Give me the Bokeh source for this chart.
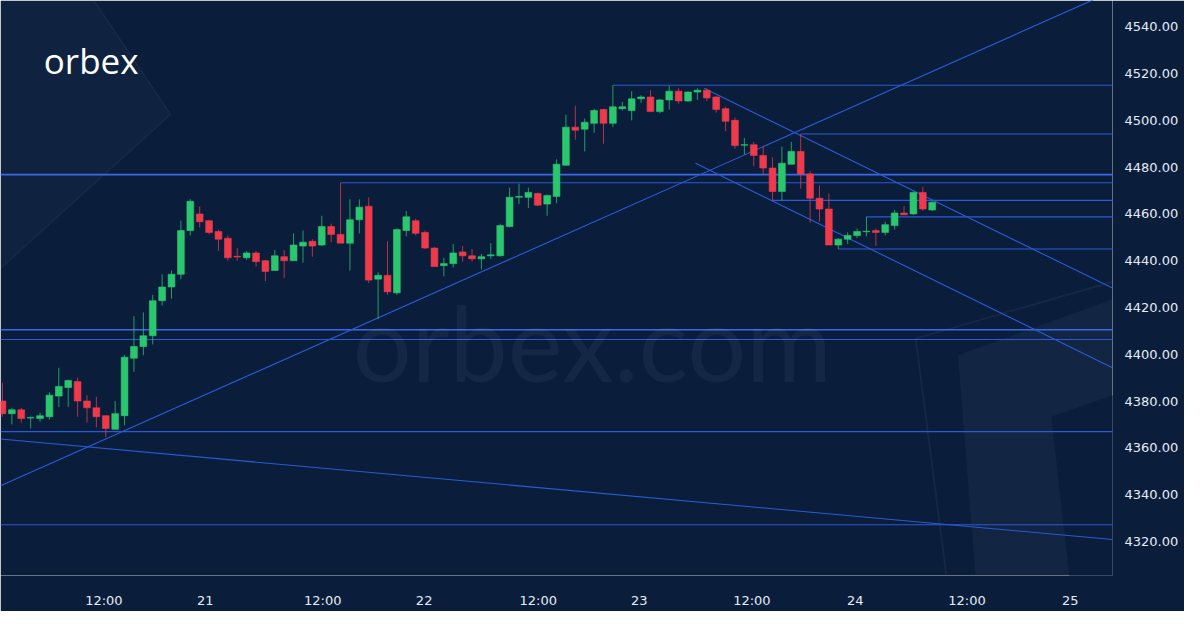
import numpy as np
from bokeh.plotting import figure
from bokeh.models import (ColumnDataSource, FixedTicker, Range1d, Label, BoxAnnotation,
                          CustomJSTickFormatter, PrintfTickFormatter)
from bokeh.embed import file_html
from bokeh.resources import INLINE

# ---------------- data (hourly candles) ----------------
opens = [4380.0, 4374.6, 4376.25, 4372.7, 4372.5, 4373.3, 4382.1, 4385.8, 4388.3, 4380.0,
         4377.1, 4373.75, 4367.9, 4373.75, 4398.3, 4403.3, 4407.9, 4422.9, 4428.75, 4434.2,
         4452.9, 4460.0, 4457.1, 4452.5, 4449.6, 4441.9, 4441.25, 4443.3, 4440.0, 4435.8,
         4441.7, 4440.0, 4446.25, 4448.3, 4446.7, 4454.6, 4451.25, 4447.5, 4457.5, 4463.3,
         4432.1, 4433.75, 4426.25, 4452.9, 4457.1, 4452.1, 4445.4, 4437.9, 4438.75, 4443.75,
         4442.1, 4440.8, 4442.1, 4442.1, 4454.6, 4467.1, 4467.1, 4468.75, 4464.2, 4467.5,
         4480.8, 4497.1, 4496.25, 4498.75, 4504.6, 4498.75, 4505.0, 4504.2, 4509.2, 4510.0,
         4503.75, 4508.75, 4512.5, 4508.3, 4512.1, 4512.9, 4510.0, 4505.0, 4500.0, 4489.4,
         4489.6, 4485.0, 4479.6, 4469.6, 4481.25, 4486.7, 4477.1, 4466.7, 4462.1, 4446.7,
         4449.2, 4450.8, 4452.4, 4452.9, 4452.1, 4455.0, 4460.4, 4460.0, 4469.2, 4461.7]
highs = [4387.9, 4377.1, 4377.1, 4373.3, 4375.0, 4383.75, 4394.2, 4389.2, 4390.0, 4382.5,
         4381.7, 4373.75, 4380.0, 4399.6, 4416.25, 4417.9, 4425.4, 4434.2, 4435.8, 4457.1,
         4466.25, 4463.3, 4457.5, 4453.3, 4450.8, 4445.4, 4444.2, 4444.2, 4440.4, 4444.6,
         4444.6, 4451.7, 4452.9, 4449.2, 4459.2, 4455.8, 4473.3, 4466.25, 4466.25, 4467.1,
         4435.0, 4448.3, 4453.75, 4461.25, 4458.0, 4452.9, 4445.8, 4441.25, 4447.1, 4446.25,
         4445.0, 4442.9, 4447.5, 4455.8, 4471.25, 4472.9, 4471.25, 4469.2, 4468.3, 4483.3,
         4502.5, 4506.25, 4500.8, 4505.0, 4505.0, 4515.0, 4507.9, 4512.5, 4510.8, 4512.9,
         4509.2, 4514.6, 4513.75, 4512.5, 4513.75, 4513.75, 4510.4, 4505.8, 4501.25, 4492.5,
         4490.8, 4488.75, 4484.2, 4488.75, 4490.8, 4494.2, 4478.3, 4472.1, 4468.75, 4449.6,
         4452.1, 4453.75, 4458.75, 4453.75, 4456.7, 4461.7, 4463.3, 4469.6, 4471.7, 4465.4]
lows = [4373.3, 4370.0, 4370.8, 4368.3, 4371.25, 4372.1, 4377.5, 4377.5, 4373.3, 4370.8,
        4368.75, 4364.6, 4367.9, 4369.6, 4392.5, 4399.6, 4404.2, 4420.8, 4423.75, 4432.1,
        4450.8, 4454.2, 4451.25, 4444.2, 4440.0, 4440.0, 4440.4, 4437.5, 4431.25, 4435.8,
        4432.5, 4440.0, 4439.2, 4441.7, 4446.25, 4447.9, 4447.5, 4435.8, 4451.7, 4430.4,
        4415.0, 4425.4, 4425.4, 4450.4, 4450.8, 4445.0, 4437.5, 4433.3, 4437.1, 4439.6,
        4439.6, 4436.25, 4440.8, 4441.7, 4454.2, 4464.2, 4462.5, 4463.3, 4459.2, 4464.6,
        4480.8, 4491.7, 4486.7, 4494.6, 4490.0, 4497.1, 4504.2, 4500.0, 4507.5, 4503.75,
        4503.0, 4504.6, 4507.1, 4507.9, 4508.75, 4508.3, 4503.3, 4495.4, 4487.9, 4485.4,
        4480.4, 4477.1, 4465.8, 4465.8, 4481.25, 4470.8, 4456.25, 4456.7, 4446.7, 4445.0,
        4447.1, 4449.6, 4450.4, 4446.25, 4450.8, 4453.3, 4459.6, 4459.6, 4461.25, 4461.25]
closes = [4374.6, 4376.25, 4372.5, 4373.0, 4373.75, 4382.5, 4386.25, 4388.75, 4380.0, 4377.1,
          4373.3, 4368.3, 4374.6, 4398.75, 4403.3, 4407.9, 4422.9, 4428.75, 4434.2, 4452.9,
          4465.4, 4456.7, 4452.1, 4449.2, 4441.25, 4441.6, 4443.3, 4439.6, 4435.4, 4442.1,
          4440.0, 4446.7, 4447.9, 4446.25, 4454.6, 4451.25, 4447.5, 4457.5, 4462.9, 4431.7,
          4433.75, 4426.7, 4453.3, 4458.75, 4451.7, 4445.4, 4437.5, 4438.75, 4443.3, 4442.1,
          4440.8, 4441.7, 4442.5, 4455.0, 4467.1, 4467.5, 4469.2, 4463.75, 4467.9, 4481.25,
          4497.1, 4495.8, 4499.2, 4504.2, 4498.75, 4505.8, 4505.8, 4509.2, 4510.0, 4503.75,
          4508.75, 4512.5, 4508.3, 4512.1, 4512.9, 4509.6, 4504.6, 4499.6, 4489.2, 4489.6,
          4485.0, 4479.6, 4469.6, 4481.7, 4486.7, 4477.1, 4466.7, 4462.1, 4446.7, 4449.2,
          4450.8, 4452.5, 4452.6, 4452.1, 4455.4, 4460.4, 4459.6, 4469.2, 4462.1, 4465.0]

# x tick labels (bar index where each label sits)
x_tick_labels = ["12:00", "21", "12:00", "22", "12:00", "23", "12:00", "24", "12:00", "25"]
x_tick_pos = [10.8, 21.6, 34.1, 44.9, 57.05, 67.8, 79.8, 90.8, 102.7, 113.7]
y_ticks = [4320, 4340, 4360, 4380, 4400, 4420, 4440, 4460, 4480, 4500, 4520, 4540]

# horizontal levels: price, first bar (None = from left edge)
h_levels = [4515.0, 4494.2, 4476.8, 4473.3, 4465.8, 4458.75, 4445.0, 4410.5, 4406.3, 4366.9, 4327.1]
h_starts = [65, 85, None, 36, 82, 92, 89, None, None, None, None]
h_strong = [False, False, True, False, False, False, False, True, False, False, False]

# trend lines: (bar0, price0, bar1, price1)
trend_x0 = [-0.21, -0.21, 74.7, 73.8]
trend_y0 = [4343.75, 4363.75, 4513.75, 4481.7]
trend_x1 = [118.2, 118.2, 118.2, 118.2]
trend_y1 = [4555.2, 4320.8, 4428.3, 4394.2]

# ---------------- styling ----------------
BG = "#0a1e3c"
UP = "#2bc76f"
DOWN = "#ef3a4c"
LINE = "#2c5ad4"
TXT = "#e6ebf4"

X0, X1 = -0.21, 118.2
Y0, Y1 = 4305.4, 4551.25
p = figure(width=1184, height=611, x_range=Range1d(X0, X1), y_range=Range1d(Y0, Y1),
           y_axis_location="right", toolbar_location=None, output_backend="svg",
           min_border_left=0, min_border_top=0, min_border_right=72, min_border_bottom=36)
p.background_fill_color = BG
p.background_fill_alpha = 0.0
p.border_fill_color = BG
p.outline_line_color = None
p.grid.visible = False
# frame background painted as a box (avoids light seams at the frame edges)
p.add_layout(BoxAnnotation(fill_color=BG, fill_alpha=1.0, line_color=None, level="image"))

# faint decorative background shapes (placed as fractions of the plot frame)
def fx(f):
    return X0 + f * (X1 - X0)
def fy(f):
    return Y1 - f * (Y1 - Y0)
chev_x = [fx(v) for v in (0.0, 0.084, 0.153, 0.0)]
chev_y = [fy(v) for v in (0.0, 0.0, 0.198, 0.466)]
p.patch(chev_x, chev_y, fill_color="#ffffff", fill_alpha=0.025, line_color=None, level="underlay")
p.line(chev_x[1:], chev_y[1:], line_color="#ffffff", line_alpha=0.045, line_width=1.5, level="underlay")
ra_x = [fx(v) for v in (0.861, 1.07, 1.07, 0.881)]
ra_y = [fy(v) for v in (0.617, 0.47, 1.1, 1.1)]
p.patch(ra_x, ra_y, fill_color="#ffffff", fill_alpha=0.035, line_color=None, level="underlay")
rb_x = [fx(v) for v in (0.945, 1.07, 1.07, 0.967)]
rb_y = [fy(v) for v in (0.724, 0.64, 1.1, 1.1)]
p.patch(rb_x, rb_y, fill_color=BG, fill_alpha=1.0, line_color=None, level="underlay")
p.line([fx(v) for v in (1.07, 0.823, 0.854)], [fy(v) for v in (0.45, 0.588, 1.05)],
       line_color="#ffffff", line_alpha=0.045, line_width=2, level="underlay")

# watermark + logo
p.add_layout(Label(x=62.8, y=4405.4, text="orbex.com", text_align="center",
                   text_baseline="alphabetic", text_font="Lato",
                   text_font_size="104px", text_color="#ffffff", text_alpha=0.045))
p.add_layout(Label(x=4.4, y=4525.6, text="orbex", text_align="left",
                   text_baseline="alphabetic", text_font="Open Sans",
                   text_font_size="35px", text_color="#ffffff"))

# horizontal levels
hx0 = [X0 if s is None else s for s in h_starts]
hsrc = ColumnDataSource(dict(x0=hx0, x1=[X1 + 5] * len(h_levels), y=h_levels,
                             w=[1.6 if s else 1.1 for s in h_strong],
                             c=["#3a68e6" if s else LINE for s in h_strong]))
p.segment(x0="x0", y0="y", x1="x1", y1="y", line_width="w", line_color="c", source=hsrc)

# trend lines
p.segment(x0=trend_x0, y0=trend_y0, x1=trend_x1, y1=trend_y1, line_color=LINE, line_width=1.1)

# candles
idx = np.arange(len(opens))
o = np.array(opens); c = np.array(closes)
up = c >= o
cols = [UP if u else DOWN for u in up]
src = ColumnDataSource(dict(x=idx, o=o, c=c, h=highs, l=lows,
                            top=np.maximum(o, c), bot=np.minimum(o, c), col=cols))
p.segment(x0="x", y0="h", x1="x", y1="l", line_color="col", line_width=1, line_alpha=0.75, source=src)
p.vbar(x="x", width=0.72, top="top", bottom="bot", fill_color="col", line_color="col",
       line_width=0.6, source=src)

# axes
p.xaxis.ticker = FixedTicker(ticks=x_tick_pos)
p.xaxis.formatter = CustomJSTickFormatter(args=dict(pos=x_tick_pos, labels=x_tick_labels), code="""
    const i = pos.findIndex(v => Math.abs(v - tick) < 1e-6);
    return i >= 0 ? labels[i] : '';
""")
p.yaxis.ticker = FixedTicker(ticks=y_ticks)
p.yaxis.formatter = PrintfTickFormatter(format="%.2f")
for ax in (p.xaxis[0], p.yaxis[0]):
    ax.axis_line_color = None
    ax.major_tick_line_color = None
    ax.minor_tick_line_color = None
    ax.major_label_text_color = TXT
    ax.major_label_text_font = "DejaVu Sans"
    ax.major_label_text_font_size = "13px"
p.xaxis.major_label_standoff = 11
p.yaxis.major_label_standoff = 6

open("out.html", "w").write(file_html(p, INLINE))
